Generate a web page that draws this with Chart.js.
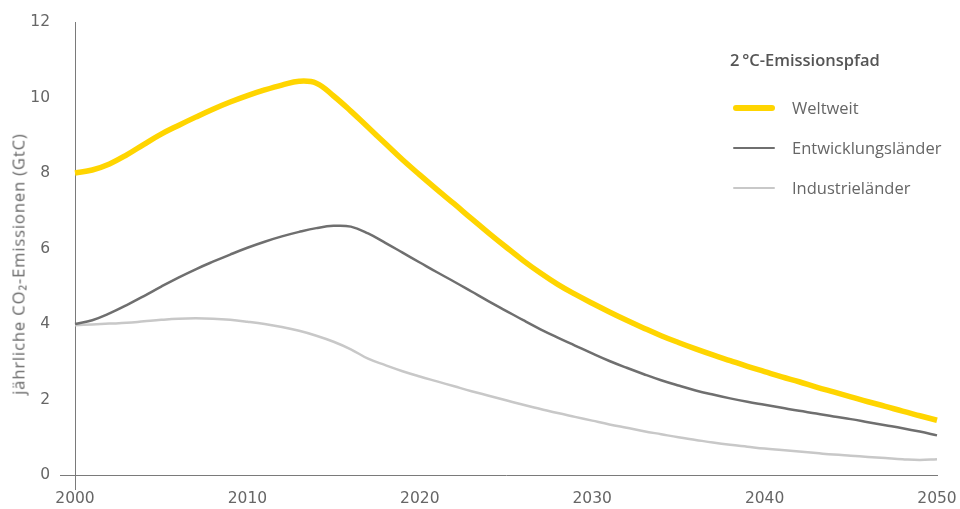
<!DOCTYPE html>
<html>
<head>
<meta charset="utf-8">
<script src="https://cdn.jsdelivr.net/npm/chart.js@4/dist/chart.umd.min.js"></script>
<style>
  html, body { margin: 0; padding: 0; background: #fff; }
  #wrap { position: relative; width: 960px; height: 509px; }
  #legend { position: absolute; left: 730px; top: 48px; font-family: "Open Sans", sans-serif; color: #666; }
  #legend .title { font-size: 16.5px; font-weight: 600; color: #555; height: 24px; line-height: 24px; white-space: nowrap; }
  #legend .item { position: absolute; left: 0; height: 24px; white-space: nowrap; }
  #legend .swatch { position: absolute; left: 3px; width: 42px; border-radius: 3px; }
  #legend .label { position: absolute; left: 62px; top: 0; line-height: 24px; font-size: 16.5px; }
  #ytitle { position: absolute; left: 18px; top: 264px; transform: translate(-50%, -50%) rotate(-90deg);
            font-family: "Open Sans", sans-serif; font-size: 16.5px; letter-spacing: 0.9px; color: #666; white-space: nowrap; }
</style>
</head>
<body>
<div id="wrap">
  <canvas id="c" width="960" height="509"></canvas>
  <div id="legend"></div>
  <div id="ytitle"></div>
</div>
<script>
const years = [];
for (let y = 2000; y <= 2050; y++) years.push(y);

const seriesNames = ["Weltweit", "Entwicklungsländer", "Industrieländer"];
const legendTitle = "2\u2009°C-Emissionspfad";
const yAxisTitle = "jährliche CO₂-Emissionen (GtC)";
const xTicks = [2000, 2010, 2020, 2030, 2040, 2050];
const yTicks = [0, 2, 4, 6, 8, 10, 12];

const weltweit = [
  8.00, 8.08, 8.24, 8.48, 8.76, 9.03, 9.26, 9.48, 9.69, 9.88,
  10.05, 10.20, 10.33, 10.43, 10.38, 10.04, 9.64, 9.21, 8.78, 8.35,
  7.95, 7.56, 7.18, 6.79, 6.41, 6.04, 5.68, 5.35, 5.05, 4.79,
  4.55, 4.32, 4.10, 3.89, 3.69, 3.51, 3.34, 3.18, 3.03, 2.88,
  2.74, 2.60, 2.47, 2.33, 2.20, 2.07, 1.94, 1.82, 1.69, 1.57,
  1.45
];
const entwicklung = [
  4.00, 4.10, 4.28, 4.50, 4.74, 4.99, 5.23, 5.45, 5.65, 5.84,
  6.02, 6.18, 6.32, 6.44, 6.54, 6.60, 6.58, 6.40, 6.15, 5.89,
  5.63, 5.37, 5.12, 4.86, 4.60, 4.35, 4.10, 3.86, 3.64, 3.43,
  3.22, 3.02, 2.84, 2.67, 2.51, 2.37, 2.24, 2.13, 2.03, 1.94,
  1.86, 1.78, 1.70, 1.63, 1.55, 1.48, 1.40, 1.32, 1.24, 1.15,
  1.05
];
const industrie = [
  3.97, 3.99, 4.01, 4.03, 4.07, 4.11, 4.14, 4.15, 4.14, 4.11,
  4.06, 4.00, 3.92, 3.82, 3.69, 3.53, 3.33, 3.08, 2.91, 2.75,
  2.61, 2.48, 2.35, 2.22, 2.10, 1.98, 1.86, 1.75, 1.64, 1.54,
  1.44, 1.34, 1.25, 1.16, 1.08, 1.00, 0.93, 0.86, 0.80, 0.75,
  0.70, 0.66, 0.62, 0.58, 0.54, 0.51, 0.48, 0.45, 0.42, 0.40,
  0.42
];

const colors = ["#FFD500", "#6f6f6f", "#c8c8c8"];
const widths = [5.5, 2.5, 2.5];
const values = [weltweit, entwicklung, industrie];

const datasets = seriesNames.map((name, i) => ({
  label: name,
  data: years.map((yr, k) => ({ x: yr, y: values[i][k] })),
  borderColor: colors[i],
  backgroundColor: colors[i],
  borderWidth: widths[i],
  pointRadius: 0,
  tension: 0.4,
  fill: false,
  clip: false,
  borderCapStyle: 'butt'
}));

const axisColor = '#7a7a7a';
const tickFont = { family: 'DejaVu Sans', size: 15.5 };

new Chart(document.getElementById('c'), {
  type: 'line',
  data: { datasets },
  options: {
    responsive: false,
    animation: false,
    devicePixelRatio: 1,
    layout: { padding: { top: 22, right: 23, left: 0, bottom: 0 } },
    plugins: { legend: { display: false }, tooltip: { enabled: false } },
    scales: {
      x: {
        type: 'linear',
        min: xTicks[0], max: xTicks[xTicks.length - 1],
        afterBuildTicks: s => { s.ticks = xTicks.map(v => ({ value: v })); },
        afterFit: s => { s.height = 34; },
        border: { display: true, color: axisColor, width: 1 },
        grid: {
          display: true, drawOnChartArea: false, drawTicks: true, tickLength: 15,
          tickColor: ctx => (ctx.tick && ctx.tick.value === xTicks[0]) ? axisColor : 'rgba(0,0,0,0)'
        },
        ticks: { color: '#666', font: tickFont, padding: 0, maxRotation: 0, callback: v => String(v) }
      },
      y: {
        min: yTicks[0], max: yTicks[yTicks.length - 1],
        afterBuildTicks: s => { s.ticks = yTicks.map(v => ({ value: v })); },
        afterFit: s => { s.width = 75; },
        border: { display: true, color: axisColor, width: 1 },
        grid: {
          display: true, drawOnChartArea: false, drawTicks: true, tickLength: 15,
          tickColor: ctx => (ctx.tick && ctx.tick.value === yTicks[0]) ? axisColor : 'rgba(0,0,0,0)'
        },
        ticks: { color: '#666', font: tickFont, padding: 10 },
        title: { display: false }
      }
    }
  }
});

document.getElementById('ytitle').textContent = yAxisTitle;

// HTML legend built from the series
const leg = document.getElementById('legend');
const t = document.createElement('div');
t.className = 'title';
t.textContent = legendTitle;
leg.appendChild(t);
seriesNames.forEach((name, i) => {
  const it = document.createElement('div');
  it.className = 'item';
  it.style.top = (48 + i * 40) + 'px';
  const sw = document.createElement('div');
  sw.className = 'swatch';
  sw.style.background = colors[i];
  sw.style.height = widths[i] + 'px';
  sw.style.top = (12 - widths[i] / 2) + 'px';
  const lb = document.createElement('div');
  lb.className = 'label';
  lb.textContent = name;
  it.appendChild(sw);
  it.appendChild(lb);
  leg.appendChild(it);
});
</script>
</body>
</html>
